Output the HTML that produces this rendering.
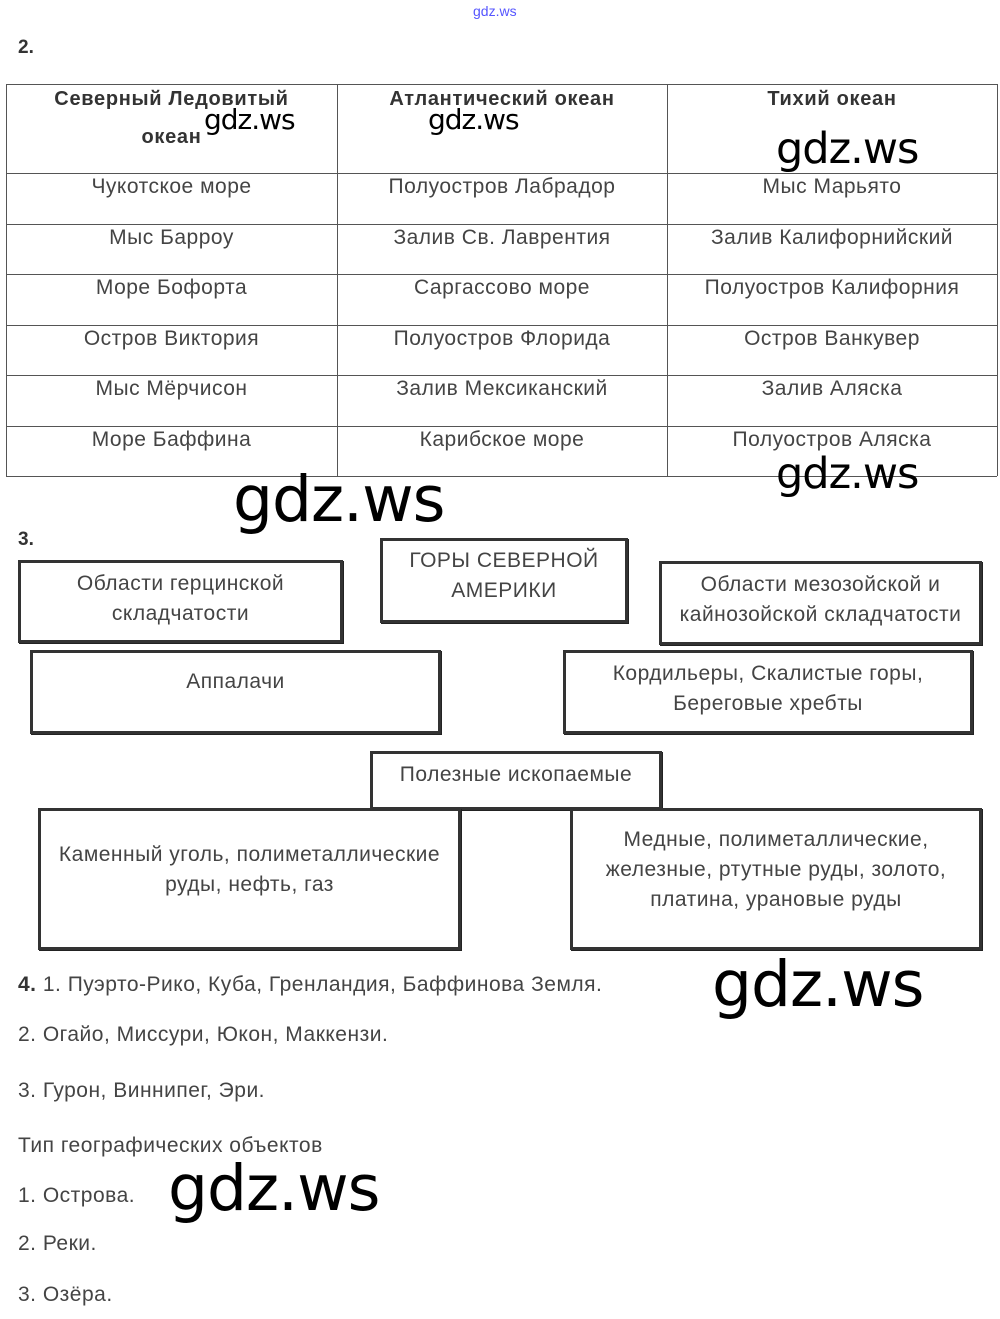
<!DOCTYPE html>
<html><head><meta charset="utf-8"><style>
body{margin:0;width:1000px;height:1319px;background:#fff;position:relative;overflow:hidden;font-family:"Liberation Sans","DejaVu Sans",sans-serif;color:#444}
.a{position:absolute;white-space:nowrap}
.t{position:absolute;font-size:21px;line-height:24px;text-align:center;color:#444;letter-spacing:0.5px;white-space:nowrap}
.hd{font-weight:bold;font-size:20px;color:#333;letter-spacing:0.7px}
.hl{position:absolute;left:6px;width:991px;height:1px;background:#555}
.vl{position:absolute;top:84px;height:392px;width:1px;background:#555}
.box{position:absolute;border:3px solid #333;box-shadow:1px 1px 0 #222;box-sizing:border-box}
.box div{position:absolute;left:-20px;right:-20px;text-align:center;font-size:21px;line-height:30px;color:#444;letter-spacing:0.5px;white-space:nowrap}
.w{position:absolute;color:#000;font-family:"DejaVu Sans","Liberation Sans",sans-serif;white-space:nowrap;letter-spacing:-1px}
.l{position:absolute;left:18px;font-size:21px;line-height:24px;color:#444;white-space:nowrap;letter-spacing:0.5px}
</style></head><body>
<div class="a" style="left:473px;top:3px;font-size:14px;color:#55f">gdz.ws</div>
<div class="a" style="left:18px;top:37px;font-size:19px;font-weight:bold;color:#333">2.</div>

<div class="hl" style="top:84px"></div>
<div class="hl" style="top:173px"></div>
<div class="hl" style="top:224px"></div>
<div class="hl" style="top:274px"></div>
<div class="hl" style="top:325px"></div>
<div class="hl" style="top:375px"></div>
<div class="hl" style="top:426px"></div>
<div class="hl" style="top:476px"></div>
<div class="vl" style="left:6px"></div>
<div class="vl" style="left:337px"></div>
<div class="vl" style="left:667px"></div>
<div class="vl" style="left:997px"></div>

<div class="t hd" style="left:6px;width:331px;top:87px">Северный Ледовитый</div>
<div class="t hd" style="left:6px;width:331px;top:125px">океан</div>
<div class="t hd" style="left:337px;width:330px;top:87px">Атлантический океан</div>
<div class="t hd" style="left:667px;width:330px;top:87px">Тихий океан</div>

<div class="t" style="left:6px;width:331px;top:175px">Чукотское море</div>
<div class="t" style="left:337px;width:330px;top:175px">Полуостров Лабрадор</div>
<div class="t" style="left:667px;width:330px;top:175px">Мыс Марьято</div>
<div class="t" style="left:6px;width:331px;top:226px">Мыс Барроу</div>
<div class="t" style="left:337px;width:330px;top:226px">Залив Св. Лаврентия</div>
<div class="t" style="left:667px;width:330px;top:226px">Залив Калифорнийский</div>
<div class="t" style="left:6px;width:331px;top:276px">Море Бофорта</div>
<div class="t" style="left:337px;width:330px;top:276px">Саргассово море</div>
<div class="t" style="left:667px;width:330px;top:276px">Полуостров Калифорния</div>
<div class="t" style="left:6px;width:331px;top:327px">Остров Виктория</div>
<div class="t" style="left:337px;width:330px;top:327px">Полуостров Флорида</div>
<div class="t" style="left:667px;width:330px;top:327px">Остров Ванкувер</div>
<div class="t" style="left:6px;width:331px;top:377px">Мыс Мёрчисон</div>
<div class="t" style="left:337px;width:330px;top:377px">Залив Мексиканский</div>
<div class="t" style="left:667px;width:330px;top:377px">Залив Аляска</div>
<div class="t" style="left:6px;width:331px;top:428px">Море Баффина</div>
<div class="t" style="left:337px;width:330px;top:428px">Карибское море</div>
<div class="t" style="left:667px;width:330px;top:428px">Полуостров Аляска</div>

<div class="w" style="left:204px;top:103px;font-size:28px">gdz.ws</div>
<div class="w" style="left:428px;top:103px;font-size:28px">gdz.ws</div>
<div class="w" style="left:776px;top:124px;font-size:43px">gdz.ws</div>
<div class="w" style="left:776px;top:449px;font-size:43px">gdz.ws</div>
<div class="w" style="left:233px;top:463px;font-size:63px">gdz.ws</div>

<div class="a" style="left:18px;top:529px;font-size:19px;font-weight:bold;color:#333">3.</div>

<div class="box" style="left:18px;top:560px;width:325px;height:83px"><div style="top:6px">Области герцинской<br>складчатости</div></div>
<div class="box" style="left:380px;top:538px;width:248px;height:85px"><div style="top:5px">ГОРЫ СЕВЕРНОЙ<br>АМЕРИКИ</div></div>
<div class="box" style="left:659px;top:561px;width:323px;height:84px"><div style="top:6px">Области мезозойской и<br>кайнозойской складчатости</div></div>
<div class="box" style="left:30px;top:650px;width:411px;height:84px"><div style="top:14px">Аппалачи</div></div>
<div class="box" style="left:563px;top:650px;width:410px;height:84px"><div style="top:6px">Кордильеры, Скалистые горы,<br>Береговые хребты</div></div>
<div class="box" style="left:370px;top:751px;width:292px;height:59px"><div style="top:6px">Полезные ископаемые</div></div>
<div class="box" style="left:38px;top:808px;width:423px;height:142px"><div style="top:29px">Каменный уголь, полиметаллические<br>руды, нефть, газ</div></div>
<div class="box" style="left:570px;top:808px;width:412px;height:142px"><div style="top:14px">Медные, полиметаллические,<br>железные, ртутные руды, золото,<br>платина, урановые руды</div></div>

<div class="w" style="left:712px;top:948px;font-size:63px">gdz.ws</div>

<div class="l" style="top:973px"><b style="color:#333">4.</b> 1. Пуэрто-Рико, Куба, Гренландия, Баффинова Земля.</div>
<div class="l" style="top:1023px">2. Огайо, Миссури, Юкон, Маккензи.</div>
<div class="l" style="top:1079px">3. Гурон, Виннипег, Эри.</div>
<div class="l" style="top:1134px">Тип географических объектов</div>
<div class="l" style="top:1184px">1. Острова.</div>
<div class="l" style="top:1232px">2. Реки.</div>
<div class="l" style="top:1283px">3. Озёра.</div>
<div class="w" style="left:168px;top:1152px;font-size:63px">gdz.ws</div>
</body></html>
